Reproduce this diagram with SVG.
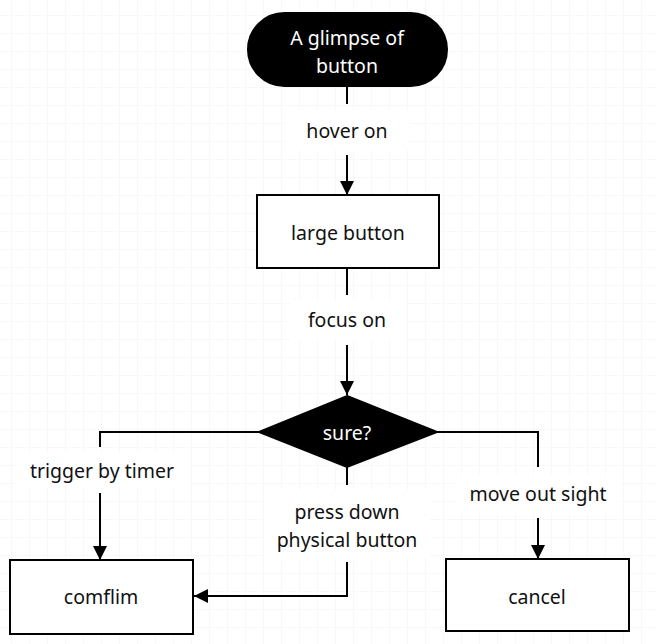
<svg xmlns="http://www.w3.org/2000/svg" width="656" height="644" viewBox="0 0 656 644">
<style>
.node{fill:#fff;stroke:#000;stroke-width:2}
.dark{fill:#000;stroke:#000;stroke-width:2}
.t{font-family:"Noto Sans","Open Sans",sans-serif;font-size:19.5px;fill:#111;text-anchor:middle}
.tw{font-family:"Noto Sans","Open Sans",sans-serif;font-size:19.5px;fill:#fff;text-anchor:middle}
.c{fill:none;stroke:#000;stroke-width:2}
.grid{stroke:#f2f2f2;stroke-width:1}
.lbl{fill:#fff}
</style>
<defs>
<marker id="ah" viewBox="0 0 14 14" refX="14" refY="7" markerWidth="14" markerHeight="14" markerUnits="userSpaceOnUse" orient="auto">
<path d="M0,0 L14,7 L0,14 Z" fill="#000"/>
</marker>
<pattern id="g" width="18" height="18" patternUnits="userSpaceOnUse" x="11" y="15">
<path d="M0,0 H18 M0,0 V18" class="grid"/>
</pattern>
</defs>
<rect width="656" height="644" fill="#fff"/>
<rect width="656" height="644" fill="url(#g)"/>
<g id="connectors">
<line class="c" x1="347" y1="86" x2="347" y2="104"/>
<rect class="lbl" x="285" y="110" width="125" height="40"/>
<line class="c" x1="347" y1="155" x2="347" y2="195" marker-end="url(#ah)"/>
<line class="c" x1="347" y1="268" x2="347" y2="295"/>
<rect class="lbl" x="290" y="300" width="115" height="40"/>
<line class="c" x1="347" y1="345" x2="347" y2="395" marker-end="url(#ah)"/>
<polyline class="c" points="259,432 100,432 100,447"/>
<rect class="lbl" x="15" y="452" width="175" height="36"/>
<line class="c" x1="100" y1="493" x2="100" y2="560" marker-end="url(#ah)"/>
<polyline class="c" points="437,432 538,432 538,467"/>
<rect class="lbl" x="455" y="475" width="165" height="38"/>
<line class="c" x1="538" y1="518" x2="538" y2="559" marker-end="url(#ah)"/>
<line class="c" x1="347" y1="467" x2="347" y2="485"/>
<rect class="lbl" x="265" y="490" width="165" height="68"/>
<polyline class="c" points="347,562 347,596 194,596" marker-end="url(#ah)"/>
</g>
<g id="start">
<rect class="dark" x="248" y="13" width="199" height="73" rx="36.5"/>
<text class="tw" x="347" y="45">A glimpse of</text>
<text class="tw" x="347" y="73">button</text>
</g>
<g id="label-hover"><text class="t" x="347" y="138">hover on</text></g>
<g id="large">
<rect class="node" x="257" y="195" width="182" height="73"/>
<text class="t" x="348" y="240">large button</text>
</g>
<g id="label-focus"><text class="t" x="347" y="327">focus on</text></g>
<g id="sure">
<polygon class="dark" points="347,396 437,432 347,467 259,432"/>
<text class="tw" x="347" y="440">sure?</text>
</g>
<g id="label-timer"><text class="t" x="102" y="478">trigger by timer</text></g>
<g id="label-move"><text class="t" x="538" y="501">move out sight</text></g>
<g id="label-press"><text class="t" x="347" y="519">press down</text><text class="t" x="347" y="547">physical button</text></g>
<g id="comflim">
<rect class="node" x="10" y="560" width="183" height="74"/>
<text class="t" x="101" y="604">comflim</text>
</g>
<g id="cancel">
<rect class="node" x="446" y="559" width="183" height="72"/>
<text class="t" x="537" y="604">cancel</text>
</g>
</svg>
